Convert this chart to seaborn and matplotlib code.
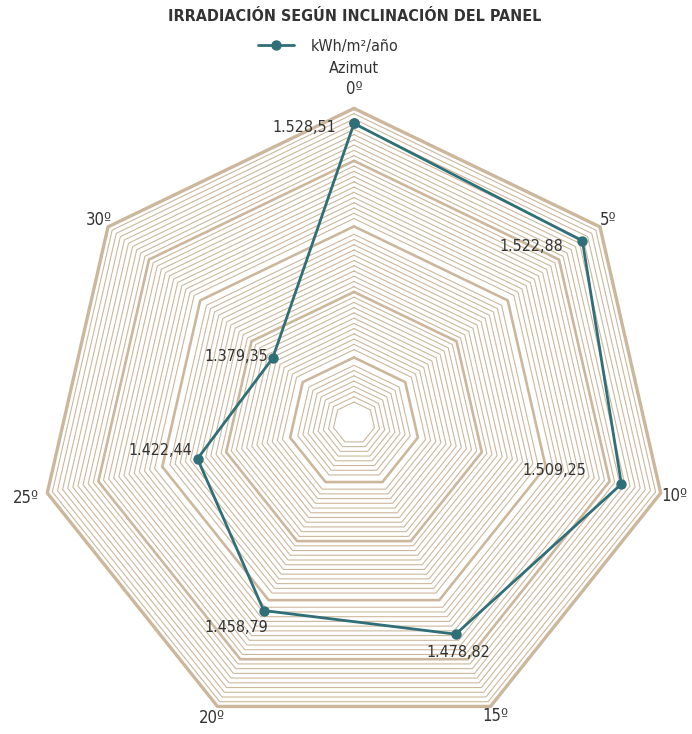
import numpy as np
import matplotlib
matplotlib.use('Agg')
import matplotlib.pyplot as plt
import seaborn as sns

# Data
azimuth = ['0º', '5º', '10º', '15º', '20º', '25º', '30º']
irradiation = [1528.51, 1522.88, 1509.25, 1478.82, 1458.79, 1422.44, 1379.35]
series_name = 'kWh/m²/año'

R_MIN, R_MAX = 1300, 1540
LINE_COLOR = '#2F6F77'
GRID_COLOR = '#CDB79C'
TEXT_COLOR = '#333333'

sns.set_style('white')
plt.rcParams['font.family'] = ['DejaVu Sans']
plt.rcParams['font.stretch'] = 'condensed'


def es_format(v):
    """Spanish number format: 1.528,51"""
    s = f"{v:,.2f}"
    return s.replace(',', 'X').replace('.', ',').replace('X', '.')


fig = plt.figure(figsize=(6.92, 7.34), dpi=100)
ax = fig.add_axes([0.0569, -0.0049, 0.9093, 0.8572], projection='polar')
ax.set_theta_zero_location('N')
ax.set_theta_direction(-1)

n = len(azimuth)
theta = np.linspace(0, 2 * np.pi, n, endpoint=False)
theta_closed = np.append(theta, theta[0] + 2 * np.pi)

# Heptagonal grid: thin minor rings and thicker major rings
majors = [1350, 1400, 1450, 1500]
minors = [m for m in np.arange(1316, R_MAX, 4) if min(abs(m - M) for M in majors) > 2.5]
for lvl in minors:
    ax.plot(theta_closed, [lvl] * (n + 1), color=GRID_COLOR, lw=0.8, zorder=1)
for lvl in majors:
    ax.plot(theta_closed, [lvl] * (n + 1), color=GRID_COLOR, lw=1.9, zorder=1)
ax.plot(theta_closed, [R_MAX] * (n + 1), color=GRID_COLOR, lw=2.4, zorder=1, clip_on=False)

vals_closed = irradiation + [irradiation[0]]
sns.lineplot(x=theta_closed, y=vals_closed, sort=False, ax=ax, color=LINE_COLOR,
             lw=2.0, marker='o', markersize=7.5, markeredgewidth=0,
             label=series_name, zorder=5)

ax.set_ylim(R_MIN, R_MAX)
ax.grid(False)
ax.set_xticks([])
ax.set_yticks([])
ax.spines['polar'].set_visible(False)
ax.set_xlabel('')
ax.set_ylabel('')

# Category labels around the heptagon
cat_radius = [1555, 1548, 1551, 1548, 1550, 1557, 1549]
for t, lab, rr in zip(theta, azimuth, cat_radius):
    ax.text(t, rr, lab, ha='center', va='center', fontsize=12,
            color=TEXT_COLOR, clip_on=False)

# Data labels
label_offsets = [(-36, -3), (-37, -4), (-48, 10), (2, -13), (-20, -12), (-27, 6), (-26, 1)]
for t, v, off in zip(theta, irradiation, label_offsets):
    ax.annotate(es_format(v), xy=(t, v), xytext=off, textcoords='offset points',
                ha='center', va='center', fontsize=11.5, color=TEXT_COLOR, zorder=6)

leg = ax.legend(loc='center', bbox_to_anchor=(0.475, 0.937), bbox_transform=fig.transFigure,
                frameon=False, fontsize=11.5, handlelength=2.2, handletextpad=1.1)
for txt in leg.get_texts():
    txt.set_color(TEXT_COLOR)

fig.text(0.512, 0.907, 'Azimut', ha='center', va='center', fontsize=11.5, color=TEXT_COLOR)
fig.text(0.512, 0.977, 'IRRADIACIÓN SEGÚN INCLINACIÓN DEL PANEL', ha='center', va='center',
         fontsize=11.5, fontweight='bold', color=TEXT_COLOR)

fig.savefig('out.png', dpi=100)
